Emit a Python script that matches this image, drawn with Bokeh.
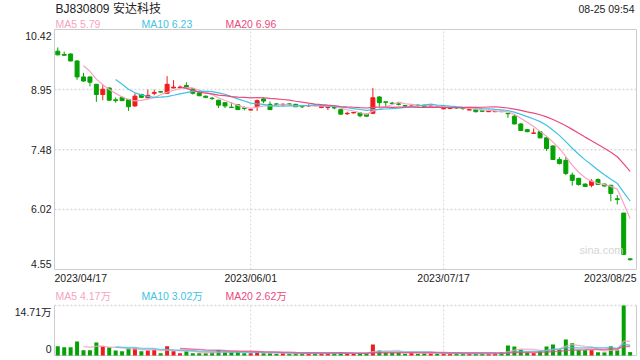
import numpy as np
from bokeh.plotting import figure
from bokeh.models import Range1d, Label, ColumnDataSource
from bokeh.embed import file_html
from bokeh.resources import INLINE

# ---------------- data ----------------
stock_title = "BJ830809 安达科技"
stamp = "08-25 09:54"
tick_idx = [0, 30, 60, 89]
tick_labels = ["2023/04/17", "2023/06/01", "2023/07/17", "2023/08/25"]
price_ticks = [10.42, 8.95, 7.48, 6.02, 4.55]
vol_max = 14.71

opens = [9.89, 9.81, 9.82, 9.65, 9.26, 9.26, 9.08, 8.83, 8.99, 8.70,
         8.76, 8.71, 8.55, 8.83, 8.75, 8.86, 8.90, 8.86, 8.99, 9.00,
         9.05, 8.97, 8.87, 8.79, 8.74, 8.69, 8.63, 8.52, 8.58, 8.50,
         8.45, 8.53, 8.72, 8.59, 8.60, 8.58, 8.60, 8.59, 8.54, 8.55,
         8.57, 8.51, 8.51, 8.51, 8.46, 8.36, 8.38, 8.38, 8.35, 8.37,
         8.77, 8.65, 8.62, 8.60, 8.56, 8.54, 8.57, 8.57, 8.54, 8.54,
         8.48, 8.49, 8.51, 8.50, 8.45, 8.46, 8.43, 8.41, 8.41, 8.42,
         8.37, 8.30, 8.11, 7.97, 7.88, 7.92, 7.77, 7.57, 7.24, 7.22,
         6.86, 6.78, 6.64, 6.61, 6.75, 6.64, 6.61, 6.28, 5.93, 4.81]
highs = [9.98, 9.88, 9.84, 9.67, 9.36, 9.27, 9.09, 9.08, 9.00, 8.76,
         8.78, 8.72, 8.86, 8.85, 8.95, 8.95, 8.91, 9.28, 9.18, 9.05,
         9.13, 8.98, 8.89, 8.80, 8.77, 8.70, 8.64, 8.64, 8.59, 8.54,
         8.47, 8.71, 8.76, 8.66, 8.62, 8.62, 8.62, 8.60, 8.56, 8.59,
         8.59, 8.58, 8.52, 8.53, 8.47, 8.41, 8.40, 8.39, 8.36, 8.99,
         8.79, 8.65, 8.65, 8.62, 8.56, 8.56, 8.60, 8.58, 8.57, 8.56,
         8.53, 8.52, 8.53, 8.50, 8.52, 8.49, 8.45, 8.46, 8.43, 8.43,
         8.38, 8.33, 8.13, 7.98, 8.00, 7.93, 7.78, 7.59, 7.30, 7.30,
         6.92, 6.79, 6.65, 6.76, 6.78, 6.65, 6.62, 6.37, 5.93, 4.83]
lows = [9.79, 9.78, 9.64, 9.19, 9.14, 9.03, 8.65, 8.69, 8.69, 8.63,
        8.67, 8.43, 8.53, 8.74, 8.74, 8.81, 8.87, 8.85, 8.98, 8.98,
        8.98, 8.83, 8.79, 8.74, 8.70, 8.50, 8.50, 8.51, 8.46, 8.44,
        8.44, 8.43, 8.62, 8.46, 8.55, 8.55, 8.56, 8.53, 8.50, 8.53,
        8.54, 8.50, 8.45, 8.47, 8.34, 8.33, 8.37, 8.27, 8.29, 8.35,
        8.53, 8.53, 8.58, 8.56, 8.50, 8.53, 8.54, 8.52, 8.51, 8.50,
        8.47, 8.47, 8.48, 8.45, 8.45, 8.39, 8.40, 8.41, 8.40, 8.40,
        8.26, 8.10, 7.94, 7.91, 7.88, 7.76, 7.45, 7.23, 7.12, 6.86,
        6.60, 6.60, 6.57, 6.56, 6.62, 6.58, 6.22, 6.14, 4.92, 4.77]
closes = [9.80, 9.79, 9.65, 9.26, 9.16, 9.13, 8.83, 8.96, 8.69, 8.68,
          8.68, 8.53, 8.79, 8.76, 8.81, 8.88, 8.89, 9.08, 9.01, 9.01,
          8.99, 8.86, 8.80, 8.76, 8.73, 8.57, 8.55, 8.51, 8.46, 8.49,
          8.46, 8.68, 8.67, 8.46, 8.59, 8.59, 8.59, 8.53, 8.53, 8.56,
          8.56, 8.55, 8.52, 8.50, 8.35, 8.37, 8.39, 8.31, 8.30, 8.75,
          8.63, 8.64, 8.61, 8.59, 8.55, 8.55, 8.56, 8.53, 8.55, 8.53,
          8.49, 8.50, 8.50, 8.49, 8.46, 8.41, 8.42, 8.42, 8.42, 8.41,
          8.36, 8.11, 7.95, 7.92, 7.89, 7.77, 7.51, 7.24, 7.14, 6.90,
          6.73, 6.63, 6.58, 6.71, 6.63, 6.59, 6.41, 6.26, 4.92, 4.79]
volumes = [2.74, 2.44, 2.44, 4.12, 1.56, 1.56, 3.82, 2.74, 2.44, 1.47,
           1.27, 2.15, 2.15, 1.27, 1.47, 1.66, 0.68, 2.74, 1.27, 0.68,
           1.27, 0.68, 0.68, 0.68, 0.88, 1.60, 1.08, 1.08, 1.08, 0.68,
           0.68, 1.08, 0.68, 0.68, 0.49, 0.68, 0.49, 0.68, 0.49, 0.68,
           0.68, 0.68, 0.68, 0.68, 0.88, 0.68, 0.49, 0.68, 0.49, 3.24,
           1.47, 0.88, 0.88, 0.88, 0.49, 0.88, 0.49, 0.68, 0.68, 0.49,
           0.68, 0.49, 0.68, 0.49, 0.68, 0.49, 0.49, 0.49, 0.68, 0.98,
           2.94, 2.65, 1.77, 0.88, 0.68, 1.27, 2.65, 3.24, 1.77, 4.71,
           3.60, 1.56, 1.56, 1.56, 0.95, 0.90, 2.70, 1.56, 14.71, 1.00]
ma_price_text = ["MA5 5.79", "MA10 6.23", "MA20 6.96"]
ma_vol_text = ["MA5 4.17万", "MA10 3.02万", "MA20 2.62万"]
ma_periods = [5, 10, 20]

# ---------------- styles ----------------
UP, DOWN = "#f21b1b", "#04a304"
MA_COLORS = ["#f7a3c2", "#3fc3e3", "#ea4a80"]
FONT = "'Liberation Sans', 'Noto Sans CJK SC', sans-serif"
TXT = "#222222"
GRID = "#d9d9d9"
FRAME = "#cccccc"
W, H = 640, 360

n = len(closes)
xs = list(range(n))
colors = [UP if c > o else DOWN for o, c in zip(opens, closes)]

def moving_avg(vals, k):
    a = np.asarray(vals, dtype=float)
    out = np.convolve(a, np.ones(k) / k, mode="valid")
    return list(range(k - 1, len(a))), list(out)

# panel geometry in pixels (page coordinates)
L, R = 54, 636              # left/right of both panels
X0, X1 = -0.51, 89.99       # data x at L and R
P0, P1 = 4.55, 10.42        # price at panel bottom / top
PT, PB = 29, 269            # price panel top / bottom pixel
V0, V1 = 0.0, vol_max       # volume at panel bottom / top
VT, VB = 305, 355           # volume panel top / bottom pixel

ux = (X1 - X0) / (R - L)
up_ = (P1 - P0) / (PB - PT)
uv = (V1 - V0) / (VB - VT)

def fx(px):
    return X0 + (px - L) * ux

def fy(py):
    return P1 - (py - PT) * up_

def vy(py):
    return V1 - (py - VT) * uv

p = figure(width=W, height=H,
           x_range=Range1d(fx(0), fx(W)), y_range=Range1d(fy(H), fy(0)),
           output_backend="svg", toolbar_location=None,
           min_border=0, min_border_left=0, min_border_right=0,
           min_border_top=0, min_border_bottom=0)
p.extra_y_ranges = {"vol": Range1d(vy(H), vy(0))}
p.xaxis.visible = False
p.yaxis.visible = False
p.grid.visible = False
p.outline_line_color = None
p.background_fill_color = "white"
p.border_fill_color = "white"

# ---- price panel frame / grid ----
mid_ticks = price_ticks[1:-1]
p.segment(x0=[X0] * len(mid_ticks), x1=[X1] * len(mid_ticks), y0=mid_ticks, y1=mid_ticks,
          line_color=GRID, line_dash="2 2", line_width=1.5)
vt = tick_idx[1:-1]
p.segment(x0=vt, x1=vt, y0=[P0] * len(vt), y1=[P1] * len(vt),
          line_color=GRID, line_dash="2 2", line_width=1)
p.quad(left=X0, right=X1, bottom=P0, top=P1, fill_color=None, line_color=FRAME, line_width=1)

# ---- volume panel frame / grid ----
p.segment(x0=vt, x1=vt, y0=[V0] * len(vt), y1=[V1] * len(vt), y_range_name="vol",
          line_color=GRID, line_dash="2 2", line_width=1)
p.segment(x0=[X0], x1=[X1], y0=[V1], y1=[V1], y_range_name="vol",
          line_color=GRID, line_dash="2 2", line_width=1.5)
p.segment(x0=[X0, X0, X1], x1=[X1, X0, X1], y0=[V0, V0, V0], y1=[V0, V1, V1],
          y_range_name="vol", line_color=FRAME, line_width=1)

# ---- candles ----
src = ColumnDataSource(dict(x=xs, high=highs, low=lows,
                            top=[max(o, c) for o, c in zip(opens, closes)],
                            bottom=[min(o, c) for o, c in zip(opens, closes)],
                            color=colors))
p.segment(x0="x", y0="high", x1="x", y1="low", line_color="color", line_width=1, source=src)
p.vbar(x="x", width=0.62, top="top", bottom="bottom", fill_color="color",
       line_color="color", line_width=1, source=src)
for k, col in zip(ma_periods, MA_COLORS):
    mx, my = moving_avg(closes, k)
    p.line(mx, my, line_color=col, line_width=1.2)

# ---- volume ----
vsrc = ColumnDataSource(dict(x=xs, vol=volumes, color=colors))
p.vbar(x="x", width=0.62, top="vol", bottom=0, fill_color="color", line_color=None,
       source=vsrc, y_range_name="vol")
for k, col in zip(ma_periods, MA_COLORS):
    mx, my = moving_avg(volumes, k)
    p.line(mx, my, line_color=col, line_width=1.5, line_alpha=0.75, y_range_name="vol")

# ---- texts ----
def lab(x, y, text, color=TXT, size="10.5px", align="left", rng="default"):
    p.add_layout(Label(x=x, y=y, text=text, text_color=color, text_font=FONT,
                       text_font_size=size, text_align=align, text_baseline="middle",
                       y_range_name=rng))

lab(fx(55), fy(8), stock_title, size="12px")
lab(fx(634), fy(8), stamp, align="right")
for txt, col, px in zip(ma_price_text, MA_COLORS, [55, 141, 225]):
    lab(fx(px), fy(23.5), txt, color=col)
edge_py = {price_ticks[0]: PT + 6, price_ticks[-1]: PB - 6}
for t in price_ticks:
    y = fy(edge_py[t]) if t in edge_py else t
    lab(fx(51), y, f"{t:.2f}", align="right")
for i, (ti, tl) in enumerate(zip(tick_idx, tick_labels)):
    if i == 0:
        lab(X0, fy(277.5), tl, align="left")
    elif i == len(tick_idx) - 1:
        lab(X1, fy(277.5), tl, align="right")
    else:
        lab(ti, fy(277.5), tl, align="center")
lab(fx(623), fy(249), "sina.com", color="#d6d6d6", size="11px", align="right")

for txt, col, px in zip(ma_vol_text, MA_COLORS, [55, 141, 225]):
    lab(fx(px), fy(295.5), txt, color=col)
lab(fx(51), vy(VT + 6), f"{vol_max:.2f}万", align="right", rng="vol")
lab(fx(51), vy(VB - 7), "0", align="right", rng="vol")

open("out.html", "w").write(file_html(p, INLINE))
